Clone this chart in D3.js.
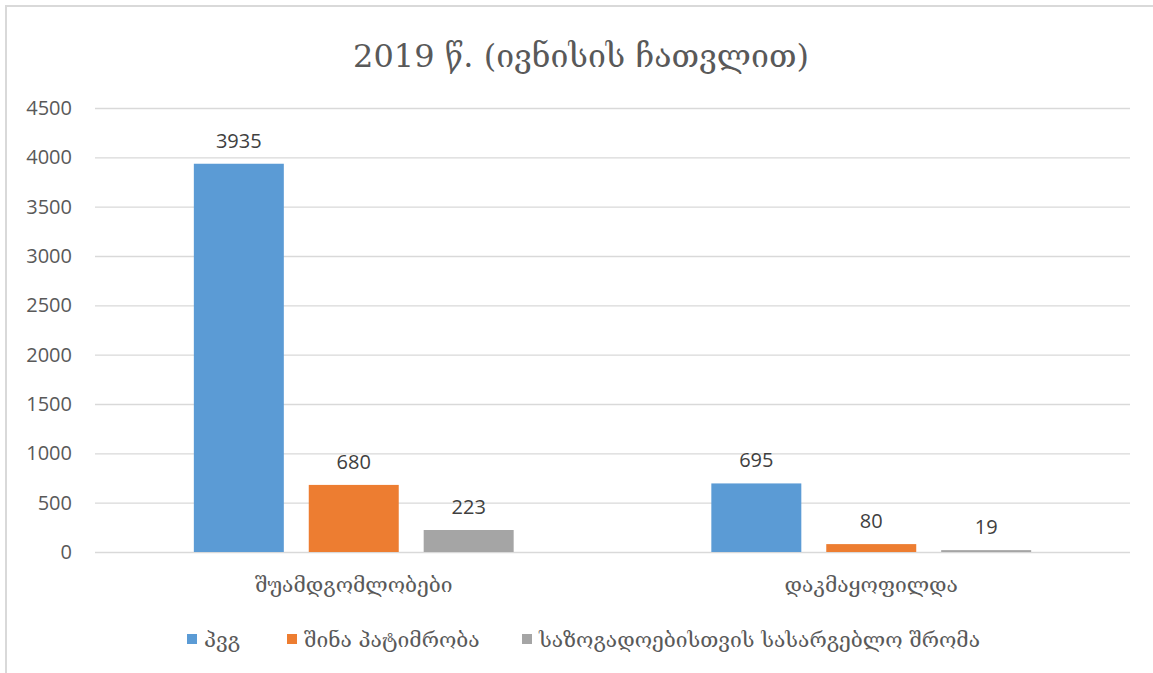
<!DOCTYPE html>
<html>
<head>
<meta charset="utf-8">
<script src="https://cdn.jsdelivr.net/npm/d3@7"></script>
<style>
  body { margin: 0; background: #fff; }
  text { font-family: "DejaVu Serif", "DejaVu Sans", serif; fill: #595959; }
</style>
</head>
<body>
<script>
// chart data
var categories = ["შუამდგომლობები", "დაკმაყოფილდა"];
var seriesNames = ["პვგ", "შინა პატიმრობა", "საზოგადოებისთვის სასარგებლო შრომა"];
var seriesColors = ["#5B9BD5", "#ED7D31", "#A5A5A5"];
var pvgValues = [3935, 695];
var homeValues = [680, 80];
var workValues = [223, 19];
var yTicks = [0, 500, 1000, 1500, 2000, 2500, 3000, 3500, 4000, 4500];
var title = "2019 წ. (ივნისის ჩათვლით)";

window.onload = function(){
    var w = 1153, h = 673;
    var seriesValues = [pvgValues, homeValues, workValues];
    var numFont = "'Open Sans', 'Liberation Sans', sans-serif";

    var svg = d3.select("body").append("svg")
        .attr("width", w)
        .attr("height", h);

    // chart area border (only top and left show in the crop)
    svg.append("rect")
        .attr("x", 6).attr("y", 6)
        .attr("width", w + 20).attr("height", h + 20)
        .style("fill", "none")
        .style("stroke", "#d9d9d9")
        .style("stroke-width", 2);

    var left = 95, right = 1130, top = 108, bottom = 552;

    var y = d3.scaleLinear().domain([0, 4500]).range([bottom, top]);
    var x0 = d3.scaleBand().domain(categories).range([left, right]);
    var x1 = d3.scaleBand().domain(d3.range(seriesNames.length))
        .range([0, x0.bandwidth()]).paddingInner(0.217).paddingOuter(0.86);

    // gridlines + tick labels
    var yAxis = d3.axisLeft(y).tickValues(yTicks).tickFormat(d3.format("d"))
        .tickSize(-(right - left)).tickPadding(23);
    var ax = svg.append("g").attr("transform", "translate(" + left + ",0)").call(yAxis);
    ax.select(".domain").remove();
    ax.selectAll("line").style("stroke", "#d9d9d9").style("stroke-width", 1.3);
    ax.selectAll("text").style("font-size", "20px").style("fill", "#595959")
        .style("font-family", numFont);

    // bars
    var groups = svg.selectAll(".grp")
        .data(categories)
        .enter().append("g")
        .attr("class", "grp")
        .attr("transform", function(d){ return "translate(" + x0(d) + ",0)"; });

    groups.each(function(cat, ci){
        var g = d3.select(this);
        seriesValues.forEach(function(vals, si){
            var v = vals[ci];
            g.append("rect")
                .attr("x", x1(si))
                .attr("y", y(v))
                .attr("width", x1.bandwidth())
                .attr("height", bottom - y(v))
                .style("fill", seriesColors[si]);
            g.append("text")
                .attr("x", x1(si) + x1.bandwidth() / 2)
                .attr("y", y(v) - 16)
                .attr("text-anchor", "middle")
                .style("font-size", "20px")
                .style("fill", "#404040")
                .style("font-family", numFont)
                .text(v);
        });
    });

    // category labels
    svg.selectAll(".cat")
        .data(categories)
        .enter().append("text")
        .attr("class", "cat")
        .attr("x", function(d){ return x0(d) + x0.bandwidth() / 2; })
        .attr("y", 592)
        .attr("text-anchor", "middle")
        .style("font-size", "21px")
        .text(function(d){ return d; });

    // title
    svg.append("text")
        .attr("x", 581)
        .attr("y", 67)
        .attr("text-anchor", "middle")
        .style("font-size", "32px")
        .text(title);

    // legend
    var legendX = [187, 287, 522];
    var legend = svg.selectAll(".leg")
        .data(seriesNames)
        .enter().append("g")
        .attr("class", "leg")
        .attr("transform", function(d, i){ return "translate(" + legendX[i] + ",634)"; });
    legend.append("rect")
        .attr("width", 10).attr("height", 10)
        .style("fill", function(d, i){ return seriesColors[i]; });
    legend.append("text")
        .attr("x", 17).attr("y", 13)
        .style("font-size", "21px")
        .text(function(d){ return d; });
};
</script>
</body>
</html>
